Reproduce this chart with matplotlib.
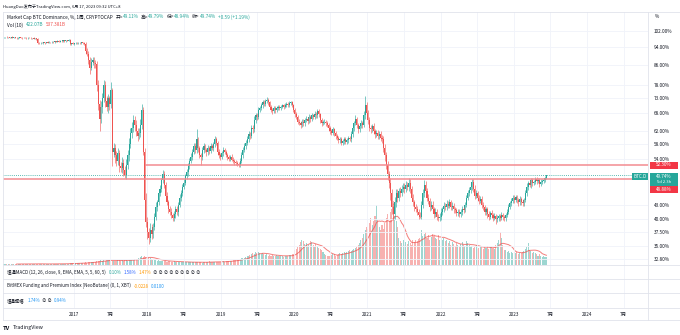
import numpy as np
import pandas as pd
import matplotlib
matplotlib.use('Agg')
import matplotlib.pyplot as plt
import matplotlib.transforms as mtransforms
from matplotlib.lines import Line2D
from matplotlib.patches import Rectangle

plt.rcParams['font.family'] = ['Noto Sans CJK SC', 'DejaVu Sans']

W, H = 680, 335

# weekly closes of BTC dominance, %
close_pct = [
    98.9, 99.0, 98.8, 98.9, 98.7, 98.9, 98.6, 98.8, 98.7, 98.5, 98.7, 98.8,
    98.6, 98.5, 98.7, 98.6, 98.4, 98.6, 98.5, 98.3, 98.5, 98.2, 98.4, 98.1,
    96.2,
    96.0, 96.3, 96.1, 96.4, 96.2, 96.5, 96.3, 96.6, 96.5, 96.7, 96.6,
    96.9, 96.8, 97.0, 96.8, 97.1, 97.0, 97.3, 97.1, 97.4, 97.2, 97.4,
    95.5, 95.9, 95.7, 96.0, 96.2, 95.9, 96.3, 96.1, 96.4, 96.0, 95.6,
    92.5, 91.0, 88.5, 85.0, 87.5, 88.5, 87.0, 86.5, 78.0, 71.0,
    66.0, 70.0, 73.0, 78.0, 72.0, 70.0, 73.0, 71.0, 76.0, 56.0,
    57.0, 55.0, 53.5, 55.5, 52.0, 51.5, 53.0, 51.0, 49.8, 52.5, 55.0,
    58.0, 61.5, 63.0, 65.5, 64.0, 62.0, 60.5, 61.5, 64.0, 69.0,
    56.0, 44.0, 39.5, 37.5, 36.5, 38.0, 37.2, 38.5,
    40.5, 42.5, 43.5, 45.5, 46.5, 48.5, 50.2, 47.5, 45.0, 43.5,
    42.0, 41.5, 40.8, 40.2, 41.0, 42.0, 41.5, 43.0, 44.5, 45.5,
    47.0, 48.0, 49.5, 50.5, 52.0, 53.5, 54.5, 56.0, 57.5, 56.5,
    59.5, 57.0, 55.0, 54.5, 56.5, 57.5, 56.5, 55.8, 57.0, 56.2, 57.5,
    57.0, 58.0, 59.5, 58.5, 56.0, 55.0, 54.5, 55.5, 56.5, 56.0,
    55.0, 54.5, 54.0, 54.5, 53.8, 53.5, 53.2, 52.8, 52.6, 52.4,
    53.5, 55.0, 56.5, 57.5, 58.5, 59.5, 61.0, 60.5, 63.0, 62.5, 65.5,
    67.0, 66.5, 69.0, 69.5, 70.5, 71.5, 71.0, 72.0, 72.5, 71.5,
    70.0, 69.0, 68.5, 69.5, 68.8, 69.5, 70.0, 69.5, 70.0, 70.5, 70.0, 70.5,
    71.0, 70.5, 71.2, 71.5, 70.5, 69.0, 67.5, 66.5, 65.0, 64.5, 64.0, 65.0, 64.5,
    65.5, 66.0, 65.2, 66.5, 65.8, 67.0, 66.5, 67.5, 67.0, 68.5, 67.5,
    65.5, 64.5, 64.8, 65.0, 64.5, 64.0, 63.0, 62.0, 61.5, 62.5,
    61.5, 60.5, 60.0, 59.2, 59.5, 58.5, 59.0, 59.5, 58.8, 59.2, 59.8,
    59.5, 61.0, 63.0, 64.5, 65.8, 64.0, 62.5, 63.5, 64.5, 64.0, 67.0, 70.5,
    68.0, 65.5, 63.0, 62.5, 63.5, 62.0, 61.0, 61.5, 60.5, 61.2, 60.0, 59.5,
    57.0, 55.0, 52.5, 50.0, 48.0, 45.5, 42.5, 41.0, 43.5, 45.5, 44.5, 46.0, 45.5,
    46.5, 47.0, 46.5, 47.5, 47.0, 48.0, 46.5, 44.5, 43.5, 42.5, 42.0, 41.5, 40.8, 40.5,
    43.0, 45.5, 47.5, 46.0, 44.5, 43.8, 42.5, 43.0, 42.0, 41.0, 41.5,
    40.5, 40.2, 40.5, 41.5, 42.0, 42.8, 42.5, 43.2, 42.8, 43.5,
    42.5, 42.8, 42.0, 41.8, 41.2, 41.5, 41.0, 41.5, 42.0, 41.8,
    43.0, 44.5, 45.5, 46.2, 47.0, 48.2, 46.5, 45.0, 45.5, 44.5,
    43.8, 44.2, 43.0, 42.5, 41.5, 42.0, 41.0, 40.5, 41.2, 40.8,
    40.3, 40.6, 40.0, 40.2, 40.6, 40.3, 40.8, 40.5, 40.2, 40.8,
    41.5, 42.5, 43.3, 43.8, 44.5, 44.0, 44.6, 44.0, 43.5, 44.2,
    43.6, 43.3, 44.0, 45.5, 47.0, 47.8, 47.5, 48.5, 47.8, 48.2,
    48.8, 48.3, 48.6, 47.6, 48.2, 48.4, 48.7, 49.15, 49.74,
]

# wick length above / below the candle body, percentage points
upper_wick = [
    0.3, 0.2, 0.4, 0.3, 0.2, 0.3, 0.4, 0.2, 0.3, 0.3, 0.2, 0.4,
    0.3, 0.2, 0.3, 0.4, 0.3, 0.2, 0.3, 0.4, 0.2, 0.3, 0.3, 0.2,
    0.3,
    0.3, 0.2, 0.4, 0.3, 0.2, 0.3, 0.4, 0.3, 0.2, 0.3, 0.4,
    0.2, 0.3, 0.3, 0.4, 0.2, 0.3, 0.4, 0.3, 0.2, 0.3, 0.4,
    0.4, 0.3, 0.5, 0.3, 0.4, 0.3, 0.5, 0.4, 0.3, 0.4, 0.5,
    1.0, 1.2, 1.5, 1.0, 1.5, 1.2, 1.0, 1.5, 1.5, 2.0,
    1.5, 2.0, 2.0, 2.0, 1.5, 2.0, 1.5, 1.0, 3.0, 1.0,
    1.5, 1.0, 1.2, 1.5, 1.0, 1.2, 1.5, 1.0, 1.2, 1.5, 1.5,
    2.0, 1.5, 2.0, 1.5, 1.2, 1.5, 1.0, 1.5, 2.0, 2.0,
    1.0, 1.0, 1.5, 1.0, 0.8, 1.2, 1.0, 0.8,
    0.8, 1.0, 0.6, 0.8, 1.0, 0.7, 0.8, 0.6, 0.7, 0.8,
    0.6, 0.7, 0.8, 0.5, 0.6, 0.8, 0.7, 0.6, 0.8, 0.7,
    0.6, 0.8, 0.7, 0.9, 0.8, 0.7, 1.0, 0.8, 0.9, 1.0,
    3.0, 0.8, 0.7, 0.6, 0.8, 1.0, 0.7, 0.6, 0.8, 0.7, 0.9,
    0.6, 0.8, 1.0, 0.7, 0.6, 0.8, 0.5, 0.7, 0.8, 0.6,
    0.5, 0.7, 0.6, 0.5, 0.7, 0.6, 0.5, 0.6, 0.5, 0.6,
    0.6, 0.8, 0.7, 0.9, 0.8, 1.0, 0.9, 0.8, 1.0, 0.9, 1.2,
    1.0, 0.9, 1.0, 0.8, 0.9, 0.7, 0.8, 0.6, 0.8, 0.7,
    0.6, 0.7, 0.5, 0.8, 0.6, 0.7, 0.5, 0.6, 0.7, 0.6, 0.5, 0.7,
    0.6, 0.5, 0.7, 0.6, 0.5, 0.6, 0.7, 0.6, 0.8, 0.7, 0.6, 0.8, 0.7,
    0.7, 0.8, 0.6, 0.9, 0.7, 0.8, 0.6, 0.9, 0.7, 0.8, 0.6,
    0.5, 0.7, 0.6, 0.8, 0.6, 0.7, 0.5, 0.6, 0.7, 0.8,
    0.6, 0.5, 0.7, 0.6, 0.8, 0.6, 0.7, 0.8, 0.6, 0.7, 0.8,
    0.7, 0.9, 1.0, 0.8, 1.2, 0.8, 0.7, 0.9, 1.0, 0.8, 1.5, 3.2,
    1.0, 0.8, 0.9, 1.0, 0.8, 0.9, 0.7, 0.8, 0.9, 0.7, 0.8, 0.9,
    1.0, 1.2, 0.9, 1.0, 0.8, 1.0, 0.9, 0.8, 1.2, 1.0, 0.9, 0.8, 1.0,
    0.9, 0.8, 1.0, 0.9, 0.7, 1.0, 0.8, 0.7, 0.8, 0.6, 0.7, 0.8, 0.6, 0.7,
    0.8, 1.0, 1.0, 0.8, 0.7, 0.8, 0.6, 0.8, 0.7, 0.6, 0.7,
    0.5, 0.6, 0.7, 0.8, 0.6, 0.7, 0.6, 0.8, 0.6, 0.7,
    0.6, 0.7, 0.5, 0.6, 0.5, 0.6, 0.5, 0.6, 0.7, 0.6,
    0.6, 0.7, 0.8, 0.7, 0.8, 0.6, 0.7, 0.8, 0.7, 0.6,
    0.7, 0.6, 0.7, 0.6, 0.5, 0.6, 0.5, 0.6, 0.5, 0.6,
    0.5, 0.6, 0.5, 0.6, 0.5, 0.4, 0.6, 0.5, 0.4, 0.5,
    0.5, 0.6, 0.5, 0.6, 0.7, 0.6, 0.5, 0.6, 0.5, 0.6,
    0.5, 0.6, 0.5, 0.7, 0.8, 0.6, 0.7, 0.6, 0.7, 0.5,
    0.6, 0.5, 0.6, 0.5, 0.6, 0.5, 0.5, 0.4, 0.05,
]

lower_wick = [
    0.2, 0.3, 0.3, 0.2, 0.4, 0.2, 0.3, 0.3, 0.2, 0.4, 0.3, 0.2,
    0.3, 0.4, 0.2, 0.3, 0.3, 0.4, 0.2, 0.3, 0.3, 0.4, 0.2, 0.4,
    0.5,
    0.4, 0.3, 0.2, 0.3, 0.4, 0.3, 0.2, 0.3, 0.4, 0.2, 0.3,
    0.3, 0.2, 0.4, 0.3, 0.3, 0.2, 0.3, 0.4, 0.3, 0.2, 0.3,
    0.5, 0.4, 0.3, 0.5, 0.4, 0.5, 0.3, 0.4, 0.5, 0.4, 0.6,
    1.5, 1.0, 2.0, 2.5, 1.0, 1.5, 2.0, 1.5, 2.5, 2.0,
    4.0, 1.5, 2.0, 1.5, 2.0, 1.5, 2.0, 2.0, 1.5, 4.0,
    1.5, 2.0, 1.5, 1.2, 1.5, 1.0, 1.2, 1.5, 0.8, 1.0, 1.2,
    1.5, 1.0, 1.5, 1.2, 2.0, 1.5, 1.5, 1.0, 1.2, 1.5,
    1.0, 1.5, 1.0, 1.2, 1.2, 0.8, 1.0, 0.8,
    0.6, 0.7, 0.8, 0.6, 0.5, 0.7, 0.6, 0.8, 0.7, 0.6,
    0.8, 0.7, 0.6, 0.6, 0.5, 0.7, 0.6, 0.8, 0.5, 0.7,
    0.6, 0.5, 0.7, 0.6, 0.8, 0.7, 0.6, 0.8, 0.7, 0.9,
    0.8, 1.0, 0.9, 2.0, 0.7, 0.8, 0.6, 0.9, 0.7, 0.8, 0.6,
    0.7, 0.8, 0.6, 0.7, 0.9, 0.8, 0.7, 0.6, 0.8, 0.7,
    0.6, 0.8, 0.6, 0.7, 0.5, 0.6, 0.7, 0.5, 0.6, 0.5,
    0.5, 0.6, 0.7, 0.6, 0.8, 0.7, 0.9, 0.8, 0.7, 1.0, 0.8,
    0.9, 1.0, 0.8, 0.9, 0.7, 0.8, 0.9, 0.7, 0.6, 0.8,
    0.7, 0.8, 0.9, 0.6, 0.8, 0.7, 0.6, 0.7, 0.6, 0.5, 0.7, 0.6,
    0.5, 0.7, 0.6, 0.5, 0.7, 0.8, 0.9, 0.7, 0.8, 0.6, 0.9, 0.7, 0.8,
    0.8, 0.6, 0.9, 0.7, 0.8, 0.6, 0.7, 0.6, 0.8, 0.7, 0.9,
    1.0, 0.8, 0.7, 0.6, 0.8, 0.7, 0.9, 0.8, 0.6, 0.7,
    0.9, 0.8, 0.7, 0.9, 0.8, 0.7, 0.6, 0.8, 0.7, 0.6, 0.7,
    0.6, 0.7, 0.8, 0.9, 0.7, 1.0, 1.2, 0.8, 0.7, 0.9, 0.8, 1.0,
    1.5, 1.2, 1.0, 1.2, 0.9, 1.0, 1.1, 0.8, 1.0, 0.9, 1.0, 1.2,
    1.2, 1.5, 1.2, 1.4, 1.3, 1.5, 1.4, 1.2, 1.0, 0.9, 1.0, 0.8, 0.9,
    0.7, 0.8, 0.9, 0.7, 0.8, 0.9, 1.0, 0.8, 0.7, 0.8, 0.6, 0.7, 0.8, 0.3,
    0.5, 0.7, 0.8, 0.9, 0.8, 0.7, 0.8, 0.7, 0.6, 0.7, 0.6,
    0.7, 0.6, 0.5, 0.6, 0.7, 0.5, 0.6, 0.7, 0.6, 0.5,
    0.7, 0.6, 0.7, 0.5, 0.6, 0.5, 0.6, 0.5, 0.6, 0.5,
    0.4, 0.5, 0.6, 0.5, 0.6, 0.7, 0.8, 0.7, 0.6, 0.7,
    0.6, 0.5, 0.7, 0.6, 0.7, 0.6, 0.7, 0.6, 0.5, 0.6,
    0.7, 0.5, 0.9, 0.6, 0.5, 0.6, 0.5, 0.6, 0.5, 0.6,
    0.4, 0.5, 0.4, 0.5, 0.4, 0.6, 0.5, 0.6, 0.7, 0.5,
    0.6, 0.5, 0.6, 0.5, 0.6, 0.7, 0.6, 0.7, 0.6, 0.5,
    0.6, 0.7, 0.5, 0.6, 0.5, 0.6, 0.5, 0.5, 0.17,
]

# weekly volume, billions
volume_b = [
    45, 52, 48, 60, 55, 50, 58, 62, 47, 53, 66, 58, 50, 61, 55, 49, 57,
    70, 64, 52, 59, 73, 66, 55, 80, 62, 57, 50, 54, 60, 56, 48, 52, 58,
    63, 55, 60, 68, 61, 57, 64, 70, 75, 66, 72, 80, 78, 85, 90, 96,
    90, 110, 85, 95, 100, 120, 105, 130, 140, 125, 150, 160, 145, 170,
    190, 180, 200, 230, 210, 250, 240, 260, 230, 280, 300, 270, 250,
    240, 220, 230, 210, 250, 270, 240, 260, 230, 280, 250, 240, 260, 290,
    300, 280, 320, 350, 330, 380, 420, 470, 450, 480, 430, 440, 400, 360, 340,
    300, 280, 260, 240, 250, 230, 220, 240, 200, 210, 190, 220, 200, 180,
    190, 210, 170, 180, 160, 175, 165, 150, 160, 170, 155, 145, 150, 160,
    140, 150, 165, 155, 145, 150, 140, 135, 150, 145, 160, 170, 200, 190,
    175, 165, 180, 170, 160, 175, 180,
    190, 200, 180, 210, 220, 230, 210, 240, 260, 250, 280, 300, 290,
    330, 360, 400, 380, 450, 500, 470, 560, 600, 650, 620, 700, 680,
    720, 650, 600, 640, 580, 550, 600, 520, 560, 500, 540, 480, 520,
    560, 500, 470, 520, 490, 460, 500, 480, 520, 550, 530, 580, 600,
    800, 900, 1000, 1100, 1250, 1400, 1300, 1150, 1200, 1050, 1100,
    1300, 1250, 1100, 1000, 1150, 1050, 950, 900,
    800, 700, 600, 550, 500, 520, 480, 560, 600, 580, 520, 560, 600, 650, 620,
    650, 700, 680, 720, 750, 800, 760, 850, 900, 950, 1000, 1100, 1200,
    1350, 1500, 1700, 1900, 2100,
    2000, 2300, 2600, 2200, 2400, 2700, 3300, 2500, 2100, 1900, 2200,
    2000, 2300, 2600, 2800, 2400, 2900, 3100, 3500, 2700, 2400, 2100,
    1500, 1300, 1200, 1400, 1100, 1250, 1150, 1300, 1200, 1100, 1350,
    1250, 1400, 1300, 1450,
    1500, 1900, 1600, 1700, 1800, 1500, 1650, 1400, 1550, 1700, 1600,
    1500, 1450, 1650, 1400, 1550, 1350, 1500, 1300, 1400,
    1200, 1300, 1100, 1250, 1150, 1050, 1200, 1100, 1000, 1150, 1250,
    1100, 1050, 1300, 1200,
    1100, 1000, 1050, 950, 1000, 1100, 900, 950, 1050, 980, 900, 1000,
    950, 1050, 900, 980, 1000, 950, 900, 1100, 1200, 1400, 1800, 1500, 1100,
    850, 800, 700, 750, 650, 700, 680, 720, 650, 700, 620, 680, 640, 700, 750,
    900, 1000, 1200, 850, 750, 680,
    700, 640, 580, 520, 600, 480, 450, 520, 440, 422,
]

last_week = '2023-06-12'
last_open = 49.11
level_hi = 52.30
level_hi_from = '2017-12-18'
level_lo = 48.88

y_ticks = [32.8, 35.0, 37.5, 40.0, 43.0, 54.0, 58.0, 62.0, 68.0, 73.0, 78.0, 86.0, 94.0, 102.0]
x_tick_dates = ['2017-01-01', '2017-07-01', '2018-01-01', '2018-07-01', '2019-01-01',
                '2019-07-01', '2020-01-01', '2020-07-01', '2021-01-01', '2021-07-01',
                '2022-01-01', '2022-07-01', '2023-01-01', '2023-07-01', '2024-01-01',
                '2024-07-01']
x_tick_labels = ['2017', '7月', '2018', '7月', '2019', '7月', '2020', '7月', '2021', '7月',
                 '2022', '7月', '2023', '7月', '2024', '7月']
view_start, view_end = '2016-01-13', '2024-10-30'

UP, DOWN = '#26a69a', '#ef5350'
GRID = '#f0f3fa'
BORDER = '#e0e3eb'
TXT = '#131722'

n = len(close_pct)
weeks = pd.date_range(end=last_week, periods=n, freq='7D')


def week_pos(d):
    return (pd.Timestamp(d) - weeks[0]).days / 7.0


c = np.array(close_pct)
o = np.concatenate([[c[0]], c[:-1]])
o[-1] = last_open
hi = np.maximum(o, c) + np.array(upper_wick)
lo = np.minimum(o, c) - np.array(lower_wick)
vol = np.array(volume_b, dtype=float)
vol_ma = pd.Series(vol).rolling(10).mean()
x = np.arange(n)
cols = np.where(c >= o, UP, DOWN)

fig = plt.figure(figsize=(W / 100, H / 100), dpi=100)


def box(x0, y0, x1, y1):
    return [x0 / W, 1 - y1 / H, (x1 - x0) / W, (y1 - y0) / H]


xlim = (week_pos(view_start), week_pos(view_end))
xt = [week_pos(d) for d in x_tick_dates]

# volume overlay sits underneath the price axes
axv = fig.add_axes(box(3, 12, 648, 265))
axv.bar(x, vol, width=0.75, color=cols, alpha=0.45, lw=0)
axv.plot(x, vol_ma, color=DOWN, lw=0.7, alpha=0.75)
axv.set_xlim(*xlim)
axv.set_ylim(0, 55 * 253)
axv.axis('off')

ax = fig.add_axes(box(3, 12, 648, 265))
ax.patch.set_alpha(0)
ax.set_yscale('log')
ax.set_xlim(*xlim)
ax.set_ylim(31.85, 112.1)
ax.yaxis.set_minor_locator(matplotlib.ticker.NullLocator())
ax.set_yticks(y_ticks)
ax.set_yticklabels([f'{v:.2f}%' for v in y_ticks])
ax.yaxis.tick_right()
ax.set_xticks(xt)
ax.set_xticklabels([])
ax.tick_params(length=0, labelsize=3.4, labelcolor=TXT, pad=4)
ax.grid(True, color=GRID, lw=0.6)
ax.set_axisbelow(True)
for s in ax.spines.values():
    s.set_visible(False)

ax.vlines(x, lo, hi, colors=cols, lw=0.6, alpha=0.7)
ax.bar(x, np.abs(c - o), bottom=np.minimum(o, c), width=0.75, color=cols, lw=0)

ax.hlines(level_hi, week_pos(level_hi_from), xlim[1], color='#f28b91', lw=1.1)
ax.axhline(level_lo, color='#f28b91', lw=1.1)
ax.axhline(c[-1], color=UP, lw=0.6, ls=(0, (1, 1.5)))

# empty indicator panes below the price pane
for y0, y1 in [(265, 279), (279, 293), (293, 308)]:
    p = fig.add_axes(box(3, y0, 648, y1))
    p.set_xlim(*xlim)
    p.set_xticks(xt)
    p.set_yticks([])
    p.tick_params(length=0, labelbottom=False)
    p.grid(True, axis='x', color=GRID, lw=0.6)
    for s in p.spines.values():
        s.set_visible(False)

# frame lines
def hline_px(y, x0=3, x1=680):
    fig.add_artist(Line2D([x0 / W, x1 / W], [1 - y / H] * 2, color=BORDER, lw=0.6))


def vline_px(xp, y0, y1):
    fig.add_artist(Line2D([xp / W] * 2, [1 - y0 / H, 1 - y1 / H], color=BORDER, lw=0.6))


for yy in (12, 265, 279, 293, 308, 320):
    hline_px(yy)
vline_px(648, 12, 320)
vline_px(3, 12, 320)

# time scale labels
blend = mtransforms.blended_transform_factory(ax.transData, fig.transFigure)
for pos, lab in zip(xt, x_tick_labels):
    fig.text(pos, 1 - 314 / H, lab, transform=blend, ha='center', va='center',
             fontsize=3.3, color=TXT)

renderer = fig.canvas.get_renderer()


def text_run(xp, yp, parts, size):
    for s, col, gap in parts:
        t = fig.text(xp / W, 1 - yp / H, s, color=col, fontsize=size, ha='left', va='center')
        xp += t.get_window_extent(renderer=renderer).width + gap


def tag(x0, y0, x1, y1, color, lines):
    fig.add_artist(Rectangle((x0 / W, 1 - y1 / H), (x1 - x0) / W, (y1 - y0) / H,
                             transform=fig.transFigure, facecolor=color, edgecolor='none'))
    for yy, s, sz in lines:
        fig.text((x0 + x1) / 2 / W, 1 - yy / H, s, color='white', fontsize=sz,
                 ha='center', va='center')


fig.text(3 / W, 1 - 7 / H, 'HuangDao发布于TradingView.com, 6月 17, 2023 09:32 UTC+8',
         fontsize=3.0, color=TXT, ha='left', va='center')
text_run(7, 17, [('Market Cap BTC Dominance, %, 1周, CRYPTOCAP', TXT, 3),
                 ('开=', TXT, 0), ('49.11%', UP, 2), ('高=', TXT, 0), ('49.79%', UP, 2),
                 ('低=', TXT, 0), ('48.94%', UP, 2), ('收=', TXT, 0), ('49.74%', UP, 2),
                 ('+0.59 (+1.19%)', UP, 0)], 3.4)
text_run(7, 25, [('Vol (10)', TXT, 3), ('422.07B', UP, 2), ('537.381B', DOWN, 0)], 3.4)

text_run(7, 272, [('埋通MACD (12, 26, close, 9, EMA, EMA, 5, 5, 60, 5)', TXT, 3),
                  ('0.10%', UP, 2), ('1.58%', '#2962ff', 2), ('1.47%', '#ff9800', 2),
                  ('∅ ∅ ∅ ∅ ∅ ∅ ∅ ∅ ∅', TXT, 0)], 3.2)
text_run(7, 286, [('BitMEX Funding and Premium Index [NeoButane] (0, 1, XBT)', TXT, 3),
                  ('-0.0228', '#ff9800', 2), ('0.0100', '#2196f3', 0)], 3.2)
text_run(7, 301, [('埋通擺幅', TXT, 3), ('1.74%', '#2196f3', 2), ('∅ ∅', TXT, 2),
                  ('0.94%', '#2196f3', 0)], 3.2)

fig.text(655 / W, 1 - 16 / H, '%', fontsize=3.4, color=TXT, ha='left', va='center')

tag(650, 161.5, 678, 168.5, '#f23645', [(165, f'{level_hi:.2f}%', 3.3)])
tag(632, 172.5, 648, 179.5, UP, [(176, 'BTC.D', 3.3)])
tag(650, 172.5, 678, 186, UP, [(176, f'{c[-1]:.2f}%', 3.3), (182.2, '5d 2.3h', 3.0)])
tag(650, 186.5, 678, 193, '#f23645', [(189.7, f'{level_lo:.2f}%', 3.3)])

fig.text(3 / W, 1 - 328 / H, 'TV', fontsize=4.2, fontweight='bold', color=TXT,
         ha='left', va='center')
fig.text(13 / W, 1 - 328 / H, 'TradingView', fontsize=3.8, color=TXT, ha='left', va='center')

fig.savefig('out.png', dpi=100, facecolor='white')
